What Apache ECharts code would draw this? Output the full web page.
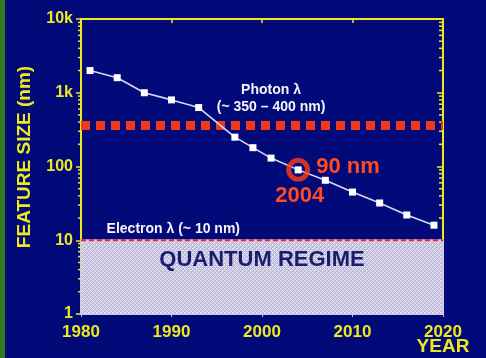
<!DOCTYPE html>
<html>
<head>
<meta charset="utf-8">
<script src="https://cdn.jsdelivr.net/npm/echarts@6/dist/echarts.min.js"></script>
<style>
  html, body { margin: 0; padding: 0; background: #010a78; }
  #chart { width: 486px; height: 358px; }
</style>
</head>
<body>
<div id="chart"></div>
<script>
// Feature size of leading-edge devices by year (nm)
const years       = [1981, 1984, 1987, 1990, 1993, 1997, 1999, 2001, 2004, 2007, 2010, 2013, 2016, 2019];
const featureSize = [2000, 1600, 1000,  800,  630,  250,  180,  130,   90,   65,   45,   32,   22,   16];

// Reference levels
const photonLevel   = 360;   // photon wavelength (~350-400 nm)
const electronLevel = 10;    // electron wavelength (~10 nm)
const quantumFloor  = 1;

// Highlighted node
const highlightYear = 2004;
const highlightSize = 90;

// Axes
const xRange      = [1980, 2020];
const xTickStep   = 10;
const yTickValues = [1, 10, 100, 1000, 10000];
const yTickLabels = ['1', '10', '100', '1k', '10k'];

const YELLOW = '#eee81e';
const RED    = '#f2381a';
const FONT   = 'Liberation Sans, Arial, sans-serif';

// log-decade minor tick positions (2..9 within each decade)
const minorTicks = [];
for (let d = 0; d < yTickValues.length - 1; d++) {
  for (let m = 2; m <= 9; m++) minorTicks.push(m * yTickValues[d]);
}

// dotted hatch texture for the quantum regime box
function hatchPattern() {
  const c = document.createElement('canvas');
  c.width = 4; c.height = 4;
  const g = c.getContext('2d');
  g.fillStyle = '#d0cce6';
  g.fillRect(0, 0, 4, 4);
  g.fillStyle = '#b4b0d0';
  for (let i = 0; i < 4; i++) g.fillRect(i, 3 - i, 1, 1);
  g.fillStyle = '#f2f0fa';
  g.fillRect(0, 0, 1, 1);
  g.fillRect(2, 2, 1, 1);
  return c;
}

const chart = echarts.init(document.getElementById('chart'), null, { renderer: 'canvas' });

const yLabel = v => {
  const i = Math.round(Math.log10(v));
  return yTickLabels[i] !== undefined ? yTickLabels[i] : '';
};

const option = {
  animation: false,
  backgroundColor: '#010a78',
  grid: { left: 81, right: 43, top: 19, bottom: 44 },
  xAxis: [
    {
      type: 'value', position: 'bottom', min: xRange[0], max: xRange[1], interval: xTickStep,
      axisLine: { show: false },
      axisTick: { show: true, length: 3, lineStyle: { color: '#b8b8d4', width: 1 } },
      axisLabel: {
        color: YELLOW, fontWeight: 'bold', fontSize: 17, fontFamily: FONT, margin: 10,
        formatter: v => String(v)
      },
      splitLine: { show: false }
    },
    {
      type: 'value', position: 'top', min: xRange[0], max: xRange[1], interval: xTickStep,
      axisLine: { show: true, lineStyle: { color: YELLOW, width: 2 } },
      axisTick: { show: true, inside: true, length: 4, lineStyle: { color: YELLOW, width: 1.5 } },
      axisLabel: { show: false },
      splitLine: { show: false }
    }
  ],
  yAxis: [
    {
      type: 'log', logBase: 10, position: 'left', min: 1, max: 10000,
      axisLine: { show: true, lineStyle: { color: YELLOW, width: 2 } },
      axisTick: { show: true, length: 5, lineStyle: { color: YELLOW, width: 1.5 } },
      axisLabel: { color: YELLOW, fontWeight: 'bold', fontSize: 16, fontFamily: FONT, margin: 8, formatter: yLabel },
      splitLine: { show: false }
    },
    {
      type: 'log', logBase: 10, position: 'right', min: 1, max: 10000,
      axisLine: { show: true, lineStyle: { color: YELLOW, width: 2 } },
      axisTick: { show: true, inside: true, length: 6, lineStyle: { color: YELLOW, width: 1.5 } },
      axisLabel: { show: false },
      splitLine: { show: false }
    }
  ],
  series: [
    {
      // minor ticks on both vertical axes
      type: 'custom', z: 1, silent: true,
      data: minorTicks,
      renderItem: (params, api) => {
        const v = api.value(0);
        const l = api.coord([xRange[0], v]);
        const r = api.coord([xRange[1], v]);
        const children = [{
          type: 'line',
          shape: { x1: l[0] - 3, y1: l[1], x2: l[0], y2: l[1] },
          style: { stroke: YELLOW, lineWidth: 1.5 }
        }];
        if (v > electronLevel) {
          children.push({
            type: 'line',
            shape: { x1: r[0] - 4, y1: r[1], x2: r[0], y2: r[1] },
            style: { stroke: YELLOW, lineWidth: 1.5 }
          });
        }
        return { type: 'group', children };
      },
      encode: { y: 0 }
    },
    {
      // electron wavelength and the quantum regime below it
      name: 'Electron', type: 'line', z: 4, showSymbol: false, symbol: 'none',
      data: [[xRange[0], electronLevel], [xRange[1], electronLevel]],
      lineStyle: { color: '#e4263e', width: 2, type: [5, 3] },
      markArea: {
        silent: true,
        itemStyle: {
          color: { image: hatchPattern(), repeat: 'repeat' },
          borderColor: '#cfcbe4', borderWidth: 2
        },
        data: [[{ xAxis: xRange[0], yAxis: quantumFloor }, { xAxis: xRange[1], yAxis: electronLevel }]]
      }
    },
    {
      name: 'Photon', type: 'line', z: 3, showSymbol: false, symbol: 'none',
      data: [[xRange[0], photonLevel], [xRange[1], photonLevel]],
      lineStyle: { color: RED, width: 9, type: [9, 6], cap: 'butt' }
    },
    {
      name: 'Feature size', type: 'line', z: 5,
      data: years.map((y, i) => [y, featureSize[i]]),
      symbol: 'rect', symbolSize: 7,
      itemStyle: { color: '#ffffff' },
      lineStyle: { color: '#d8d8f2', width: 1.6 }
    },
    {
      name: 'Highlight', type: 'scatter', z: 6,
      data: [[highlightYear, highlightSize]],
      symbol: 'circle', symbolSize: 19,
      itemStyle: { color: 'rgba(0,0,0,0)', borderColor: '#ff3c14', borderWidth: 5 }
    }
  ]
};

chart.setOption(option);

const px = (x, y) => chart.convertToPixel({ xAxisIndex: 0, yAxisIndex: 0 }, [x, y]);
const pPhoton   = px(2001, photonLevel);
const pElectron = px(1990.2, electronLevel);
const pNode     = px(highlightYear, highlightSize);
const pQuantum  = px(2000, electronLevel);
const pCorner   = px(xRange[1], quantumFloor);

const txt = (x, y, text, fill, size, align, extra) => Object.assign({
  type: 'text', x, y, z: 100,
  style: {
    text, fill, align: align || 'center', verticalAlign: 'middle',
    font: 'bold ' + size + 'px ' + FONT
  }
}, extra || {});

chart.setOption({
  graphic: [
    { type: 'rect', shape: { x: 0, y: 0, width: 5, height: 358 }, style: { fill: '#2e7a20' }, z: 100 },
    txt(25, 157, 'FEATURE SIZE (nm)', YELLOW, 19, 'center', { rotation: Math.PI / 2 }),
    txt(pPhoton[0], pPhoton[1] - 35, 'Photon λ', '#f4f4fa', 14),
    txt(pPhoton[0], pPhoton[1] - 18, '(~ 350 – 400 nm)', '#f4f4fa', 14),
    txt(pElectron[0], pElectron[1] - 11, 'Electron λ (~ 10 nm)', '#f4f4fa', 14),
    txt(pNode[0] + 18, pNode[1] - 3, '90 nm', '#ff4a22', 22, 'left'),
    txt(pNode[0] + 1.5, pNode[1] + 26, '2004', '#ff4a22', 22),
    txt(pQuantum[0], pQuantum[1] + 20, 'QUANTUM REGIME', '#1c1c6e', 22),
    txt(pCorner[0], pCorner[1] + 33, 'YEAR', YELLOW, 19)
  ]
});
</script>
</body>
</html>
